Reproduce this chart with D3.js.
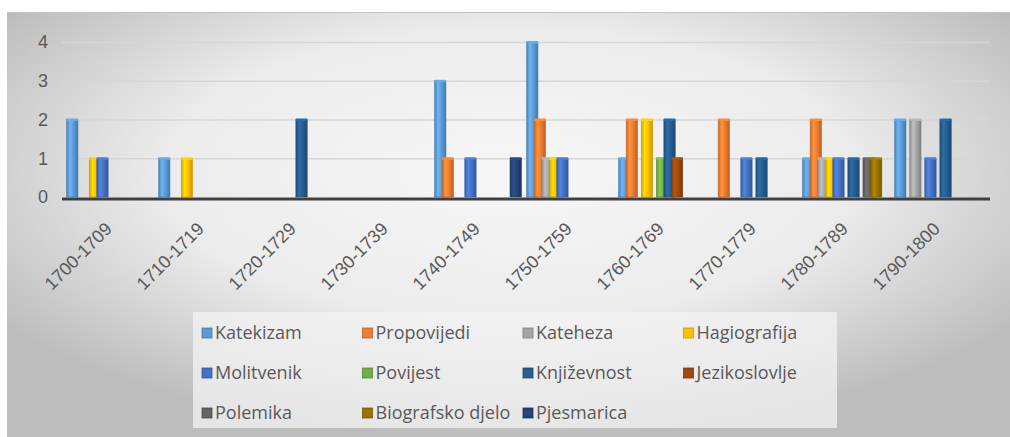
<!DOCTYPE html>
<html>
<head>
<meta charset="utf-8">
<style>
body { margin: 0; background: #fff; }
svg { font-family: "Open Sans", sans-serif; }
.axis text { fill: #595959; font-size: 18px; }
</style>
</head>
<body>
<svg width="1010" height="437"></svg>
<script src="https://cdn.jsdelivr.net/npm/d3@7"></script>
<script>

// decades on the x axis
var decades = ["1700-1709", "1710-1719", "1720-1729", "1730-1739", "1740-1749",
               "1750-1759", "1760-1769", "1770-1779", "1780-1789", "1790-1800"];

// one array per genre, one value per decade
var katekizam     = [2, 1, 0, 0, 3, 4, 1, 0, 1, 2];
var propovijedi   = [0, 0, 0, 0, 1, 2, 2, 2, 2, 0];
var kateheza      = [0, 0, 0, 0, 0, 1, 0, 0, 1, 2];
var hagiografija  = [1, 1, 0, 0, 0, 1, 2, 0, 1, 0];
var molitvenik    = [1, 0, 0, 0, 1, 1, 0, 1, 1, 1];
var povijest      = [0, 0, 0, 0, 0, 0, 1, 0, 0, 0];
var knjizevnost   = [0, 0, 2, 0, 0, 0, 2, 1, 1, 2];
var jezikoslovlje = [0, 0, 0, 0, 0, 0, 1, 0, 0, 0];
var polemika      = [0, 0, 0, 0, 0, 0, 0, 0, 1, 0];
var biografsko    = [0, 0, 0, 0, 0, 0, 0, 0, 1, 0];
var pjesmarica    = [0, 0, 0, 0, 1, 0, 0, 0, 0, 0];

var seriesNames = ["Katekizam", "Propovijedi", "Kateheza", "Hagiografija", "Molitvenik", "Povijest",
                   "Književnost", "Jezikoslovlje", "Polemika", "Biografsko djelo", "Pjesmarica"];
var seriesValues = [katekizam, propovijedi, kateheza, hagiografija, molitvenik, povijest,
                    knjizevnost, jezikoslovlje, polemika, biografsko, pjesmarica];
var seriesColors = ["#5B9BD5", "#ED7D31", "#A5A5A5", "#FFC000", "#4472C4", "#70AD47",
                    "#255E91", "#9E480E", "#636363", "#997300", "#264478"];

var yTicks = [0, 1, 2, 3, 4];

var svg = d3.select("svg");
var defs = svg.append("defs");

// grey chart background
var bg = defs.append("radialGradient").attr("id", "bg")
    .attr("cx", "50%").attr("cy", "38%").attr("r", "62%");
bg.append("stop").attr("offset", "0%").attr("stop-color", "#f7f7f7");
bg.append("stop").attr("offset", "55%").attr("stop-color", "#ececec");
bg.append("stop").attr("offset", "100%").attr("stop-color", "#bdbdbd");

svg.append("rect").attr("x", 7).attr("y", 12).attr("width", 1003).attr("height", 425)
    .attr("fill", "url(#bg)");
svg.append("line").attr("x1", 7).attr("x2", 1010).attr("y1", 12.5).attr("y2", 12.5)
    .attr("stroke", "#c4c4c4");

// shaded fill for each series, looks a bit like the 3d columns
seriesColors.forEach(function(c, i) {
  var g = defs.append("linearGradient").attr("id", "col" + i)
      .attr("x1", "0%").attr("x2", "100%").attr("y1", "0%").attr("y2", "0%");
  g.append("stop").attr("offset", "0%").attr("stop-color", d3.color(c).darker(0.5));
  g.append("stop").attr("offset", "30%").attr("stop-color", d3.color(c).brighter(0.45));
  g.append("stop").attr("offset", "60%").attr("stop-color", c);
  g.append("stop").attr("offset", "100%").attr("stop-color", d3.color(c).darker(0.7));
});

var x = d3.scaleBand().domain(decades).range([64, 984]);
var xs = d3.scaleBand().domain(d3.range(seriesNames.length))
    .range([0, x.bandwidth()]).paddingOuter(0.6);
var y = d3.scaleLinear().domain([0, 4]).range([197, 42]);

// gridlines
svg.append("g")
    .attr("transform", "translate(62,0)")
    .call(d3.axisLeft(y).tickValues(yTicks.slice(1)).tickSize(-928).tickFormat(""))
    .call(function(g) { g.select(".domain").remove(); })
    .selectAll("line").attr("stroke", "#d6d6d6").attr("stroke-width", 1.5);

// y labels
svg.append("g").attr("class", "axis")
    .attr("transform", "translate(48,0)")
    .call(d3.axisLeft(y).tickValues(yTicks).tickSize(0).tickPadding(0).tickFormat(d3.format("d")))
    .call(function(g) { g.select(".domain").remove(); });

// bars
var barW = xs.bandwidth() * 1.5;
var rows = [];
decades.forEach(function(d, ci) {
  seriesValues.forEach(function(vals, si) {
    if (vals[ci] > 0) rows.push({decade: d, s: si, value: vals[ci]});
  });
});

var bar = svg.append("g").selectAll("g")
    .data(rows)
    .enter().append("g")
    .attr("transform", function(d) {
      return "translate(" + (x(d.decade) + xs(d.s) + xs.bandwidth() / 2 - barW / 2) + ",0)";
    });

bar.append("rect")
    .attr("y", function(d) { return y(d.value); })
    .attr("width", barW)
    .attr("height", function(d) { return y(0) - y(d.value); })
    .attr("fill", function(d) { return "url(#col" + d.s + ")"; })
    .attr("stroke", function(d) { return d3.color(seriesColors[d.s]).darker(0.6); })
    .attr("stroke-width", 0.6);

bar.append("rect")
    .attr("y", function(d) { return y(d.value) - 1; })
    .attr("width", barW)
    .attr("height", 2.5)
    .attr("fill", function(d) { return d3.color(seriesColors[d.s]).brighter(0.3); });

// x axis
var xAxis = svg.append("g").attr("class", "axis")
    .attr("transform", "translate(0,199)")
    .call(d3.axisBottom(x).tickSize(0).tickSizeOuter(0));
xAxis.select(".domain").attr("stroke", "#404040").attr("stroke-width", 3)
    .attr("d", "M62,0H990");
xAxis.selectAll("text")
    .attr("text-anchor", "end")
    .attr("transform", "translate(3,31) rotate(-45)")
    .attr("x", 0).attr("y", 0).attr("dy", 0);

// legend
var legend = svg.append("g");
legend.append("rect").attr("x", 193).attr("y", 312).attr("width", 644).attr("height", 116)
    .attr("fill", "#f3f3f3").attr("opacity", 0.75);

var item = legend.selectAll(".item")
    .data(seriesNames)
    .enter().append("g")
    .attr("transform", function(d, i) {
      return "translate(" + (202 + (i % 4) * 160.5) + "," + (333 + Math.floor(i / 4) * 40) + ")";
    });

item.append("rect")
    .attr("x", 0).attr("y", -5).attr("width", 10).attr("height", 10)
    .attr("fill", function(d, i) { return seriesColors[i]; })
    .attr("stroke", function(d, i) { return d3.color(seriesColors[i]).darker(0.7); })
    .attr("stroke-width", 0.8);

item.append("text")
    .attr("x", 13).attr("dy", "0.35em")
    .attr("fill", "#595959")
    .style("font-size", "18px")
    .text(function(d) { return d; });

</script>
</body>
</html>
